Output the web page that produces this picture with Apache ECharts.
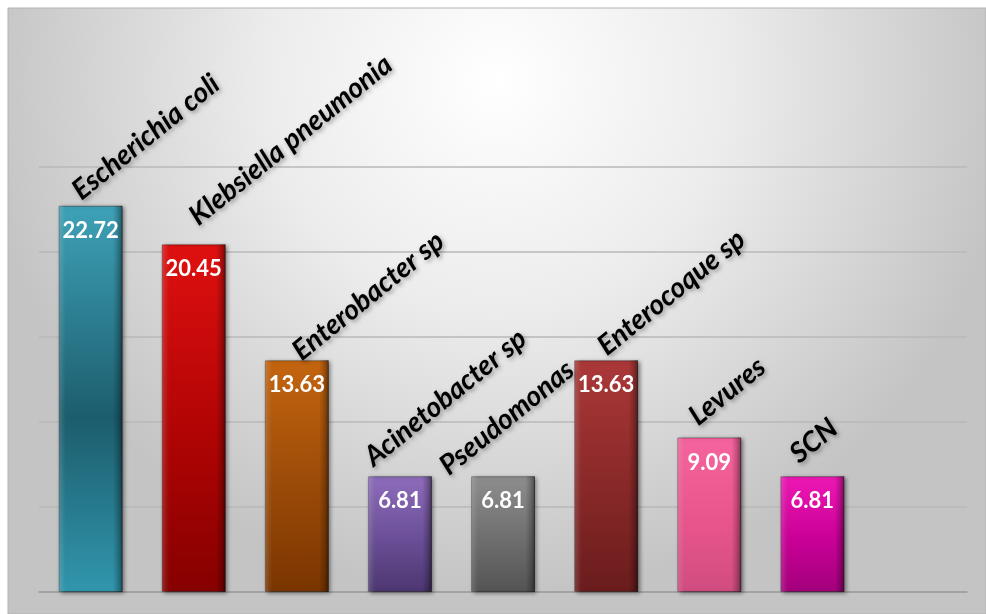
<!DOCTYPE html>
<html>
<head>
<meta charset="utf-8">
<script src="https://cdn.jsdelivr.net/npm/echarts@6/dist/echarts.min.js"></script>
<style>html,body{margin:0;padding:0;background:#fff}#c{width:986px;height:614px}</style>
</head>
<body>
<div id="c"></div>
<script>
const categories = ['Escherichia coli', 'Klebsiella pneumonia', 'Enterobacter sp', 'Acinetobacter sp', 'Pseudomonas', 'Enterocoque sp', 'Levures', 'SCN', ''];
const values = [22.72, 20.45, 13.63, 6.81, 6.81, 13.63, 9.09, 6.81, null];
const yTicks = [0, 5, 10, 15, 20, 25];

// styling (not data)
const barColors = [
  ['#3ea2b8', '#1c5d6d', '#3196ad'],
  ['#e01010', '#b00404', '#860000'],
  ['#c4650f', '#9a4a08', '#7a3500'],
  ['#8e6cbc', '#6a4e96', '#4c3670'],
  ['#8e8e8e', '#6e6e6e', '#545454'],
  ['#ac3838', '#882828', '#6a1c1c'],
  ['#f6649e', '#e8558c', '#d04c80'],
  ['#ee18b4', '#c80096', '#a4007c']
];
const nameLabelPos = [[26,-1],[40,-14],[40,5],[9,-5],[-19,4],[36,0],[24,-7],[22,-8],[0,0]];

const chart = echarts.init(document.getElementById('c'), null, {renderer:'canvas'});

const mainData = values.map((v, i) => ({
  value: v,
  itemStyle: barColors[i] ? {
    color: {type:'linear', x:0, y:0, x2:0, y2:1, colorStops:[
      {offset:0, color:barColors[i][0]},
      {offset:0.55, color:barColors[i][1]},
      {offset:1, color:barColors[i][2]}
    ]}
  } : {}
}));

const overlayData = values.map((v, i) => ({
  value: v,
  label: { position: nameLabelPos[i] }
}));

chart.setOption({
  backgroundColor: '#ffffff',
  animation: false,
  graphic: [{
    type: 'rect', z: -10, silent: true,
    shape: {x: 8, y: 8, width: 978, height: 606},
    style: {
      fill: {type:'radial', x:0.5, y:0.12, r:0.85, colorStops:[
        {offset:0, color:'#ffffff'},
        {offset:0.45, color:'#ececec'},
        {offset:1, color:'#c4c4c4'}
      ]},
      stroke: '#b4b4b4', lineWidth: 1
    }
  }],
  grid: {left: 39, right: 19, top: 167, bottom: 22, containLabel: false},
  xAxis: {
    type: 'category', data: categories,
    axisLine: {show: true, lineStyle: {color: '#9a9a9a', width: 1.5}},
    axisTick: {show: false}, axisLabel: {show: false}
  },
  yAxis: {
    type: 'value', min: yTicks[0], max: yTicks[yTicks.length-1], interval: yTicks[1]-yTicks[0],
    axisLine: {show: false}, axisTick: {show: false}, axisLabel: {show: false},
    splitLine: {lineStyle: {color: '#b8b8b8', width: 1.5}}
  },
  series: [{
    type: 'bar', data: mainData, barWidth: '62%', barGap: '-100%',
    itemStyle: {borderColor: 'rgba(0,0,0,0.35)', borderWidth: 1, shadowColor: 'rgba(0,0,0,0.45)', shadowBlur: 4, shadowOffsetX: 2, shadowOffsetY: 1},
    label: {
      show: true, position: 'insideTop', distance: 14,
      color: '#ffffff', fontFamily: 'Lato', fontWeight: 'bold', fontSize: 22,
      formatter: p => p.value.toFixed(2)
    }
  }, {
    type: 'bar', data: overlayData, barWidth: '62%', barGap: '-100%',
    itemStyle: {
      color: {type:'linear', x:0, y:0, x2:1, y2:0, colorStops:[
        {offset:0, color:'rgba(255,255,255,0.18)'},
        {offset:0.08, color:'rgba(255,255,255,0.05)'},
        {offset:0.15, color:'rgba(0,0,0,0)'},
        {offset:0.85, color:'rgba(0,0,0,0)'},
        {offset:0.93, color:'rgba(0,0,0,0.2)'},
        {offset:1, color:'rgba(0,0,0,0.45)'}
      ]}
    },
    label: {
      show: true, rotate: 39, align: 'left', verticalAlign: 'bottom',
      color: '#000', fontFamily: 'Lato', fontWeight: 'bold', fontStyle: 'italic', fontSize: 28,
      textShadowColor: 'rgba(0,0,0,0.35)', textShadowBlur: 4, textShadowOffsetX: 2, textShadowOffsetY: 2,
      formatter: p => p.name
    }
  }]
});
</script>
</body>
</html>
